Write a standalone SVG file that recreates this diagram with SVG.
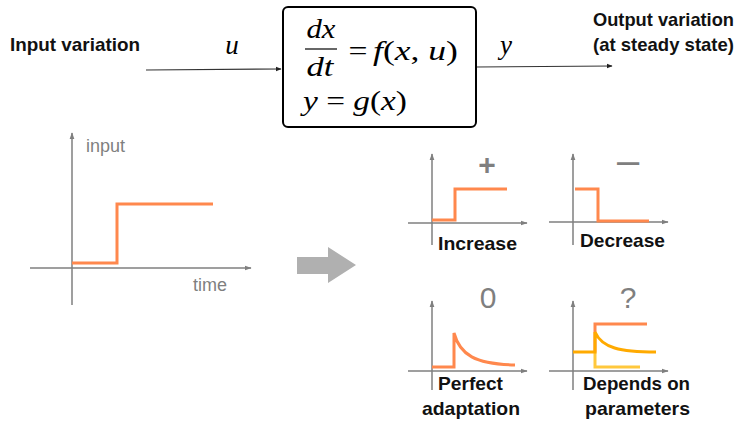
<svg xmlns="http://www.w3.org/2000/svg" width="743" height="421" viewBox="0 0 743 421">
<defs>
<style>
.lbl{font-family:"Liberation Sans",Arial,sans-serif;font-weight:bold;font-size:19px;fill:#111}
.math{font-family:"Liberation Serif","Times New Roman",serif;font-size:27px;fill:#000}
.it{font-style:italic}
.gray{font-family:"Liberation Sans",Arial,sans-serif;fill:#7f7f7f}
.axis{stroke:#7f7f7f;stroke-width:1.5;fill:none}
.conn{stroke:#333;stroke-width:1.2;fill:none}
.or{stroke:#ff884d;stroke-width:3;fill:none}
.am{stroke:#ffaa00;stroke-width:3;fill:none}
.ye{stroke:#ffc83c;stroke-width:3;fill:none}
</style>
<marker id="ah" viewBox="0 0 10 10" refX="9" refY="5" markerWidth="6" markerHeight="6" orient="auto" markerUnits="userSpaceOnUse">
<path d="M0,1 L10,5 L0,9 z" fill="#222"/>
</marker>
<marker id="ag" viewBox="0 0 10 10" refX="9" refY="5" markerWidth="7" markerHeight="7" orient="auto" markerUnits="userSpaceOnUse">
<path d="M0,1.5 L10,5 L0,8.5 z" fill="#7f7f7f"/>
</marker>
</defs>
<rect width="743" height="421" fill="#fff"/>

<g id="connectors">
<path class="conn" d="M146,70 L281,69" marker-end="url(#ah)"/>
<path class="conn" d="M476,67 L612,66" marker-end="url(#ah)"/>
</g>

<g id="input-label"><text class="lbl" x="10" y="51" textLength="130" lengthAdjust="spacingAndGlyphs">Input variation</text></g>
<g id="u-label"><text class="math it" x="232" y="54" text-anchor="middle">u</text></g>
<g id="y-label"><text class="math it" x="506" y="54" text-anchor="middle">y</text></g>
<g id="output-label">
<text class="lbl" x="593" y="26" textLength="141" lengthAdjust="spacingAndGlyphs">Output variation</text>
<text class="lbl" x="593" y="51" textLength="141" lengthAdjust="spacingAndGlyphs">(at steady state)</text>
</g>

<g id="system">
<rect x="283" y="7" width="193" height="120" rx="5" fill="#fff" stroke="#000" stroke-width="2"/>
<text class="math it" x="321" y="38" text-anchor="middle" textLength="29" lengthAdjust="spacingAndGlyphs">dx</text>
<line x1="305" y1="49" x2="337" y2="49" stroke="#000" stroke-width="1.2"/>
<text class="math it" x="320" y="76" text-anchor="middle" textLength="27" lengthAdjust="spacingAndGlyphs">dt</text>
<text class="math" x="358" y="60" text-anchor="middle" textLength="19" lengthAdjust="spacingAndGlyphs">=</text>
<text class="math" x="373" y="60" textLength="85" lengthAdjust="spacingAndGlyphs"><tspan class="it">f</tspan>(<tspan class="it">x</tspan>, <tspan class="it">u</tspan>)</text>
<text class="math" x="303" y="110" textLength="104" lengthAdjust="spacingAndGlyphs"><tspan class="it">y</tspan> = <tspan class="it">g</tspan>(<tspan class="it">x</tspan>)</text>
</g>

<g id="input-plot">
<path class="axis" d="M72,305 L72,133" marker-end="url(#ag)"/>
<path class="axis" d="M30,268 L251,268" marker-end="url(#ag)"/>
<path class="or" d="M72,263 L117,263 L117,204 L213,204"/>
<text class="gray" x="86" y="152" font-size="18">input</text>
<text class="gray" x="193" y="291" font-size="18">time</text>
</g>

<g id="big-arrow">
<path d="M297,257 L328,257 L328,247 L356,265 L328,283 L328,274 L297,274 z" fill="#b0b0b0"/>
</g>

<g id="increase">
<path class="axis" d="M432,245 L432,154" marker-end="url(#ag)"/>
<path class="axis" d="M408,223 L527,223" marker-end="url(#ag)"/>
<path class="or" d="M432,220 L455,220 L455,189 L507,189"/>
<text class="gray" x="487" y="175" font-size="30" font-weight="bold" text-anchor="middle">+</text>
<text class="lbl" x="438" y="250" textLength="79" lengthAdjust="spacingAndGlyphs">Increase</text>
</g>

<g id="decrease">
<path class="axis" d="M573,245 L573,154" marker-end="url(#ag)"/>
<path class="axis" d="M549,222 L668,222" marker-end="url(#ag)"/>
<path class="or" d="M575,189 L598,189 L598,221 L649,221"/>
<text class="gray" x="628" y="174" font-size="40" text-anchor="middle">–</text>
<text class="lbl" x="580" y="247" textLength="85" lengthAdjust="spacingAndGlyphs">Decrease</text>
</g>

<g id="perfect-adaptation">
<path class="axis" d="M432,390 L432,301" marker-end="url(#ag)"/>
<path class="axis" d="M408,371 L527,371" marker-end="url(#ag)"/>
<path class="or" d="M432,367 L454,367 L454,333 C460,355 475,364 515,365"/>
<text class="gray" x="488" y="308" font-size="30" text-anchor="middle">0</text>
<text class="lbl" x="438" y="390" textLength="65" lengthAdjust="spacingAndGlyphs">Perfect</text>
<text class="lbl" x="422" y="415" textLength="98" lengthAdjust="spacingAndGlyphs">adaptation</text>
</g>

<g id="depends">
<path class="axis" d="M573,390 L573,301" marker-end="url(#ag)"/>
<path class="axis" d="M549,371 L668,371" marker-end="url(#ag)"/>
<path class="ye" d="M595,352 L595,367 L640,367"/>
<path class="or" d="M595,352 L595,324 L647,324"/>
<path class="am" d="M573,352 L595,352 L595,332 C602,348 620,352 656,352"/>
<text class="gray" x="628" y="308" font-size="30" text-anchor="middle">?</text>
<text class="lbl" x="583" y="390" textLength="107" lengthAdjust="spacingAndGlyphs">Depends on</text>
<text class="lbl" x="585" y="415" textLength="105" lengthAdjust="spacingAndGlyphs">parameters</text>
</g>
</svg>
